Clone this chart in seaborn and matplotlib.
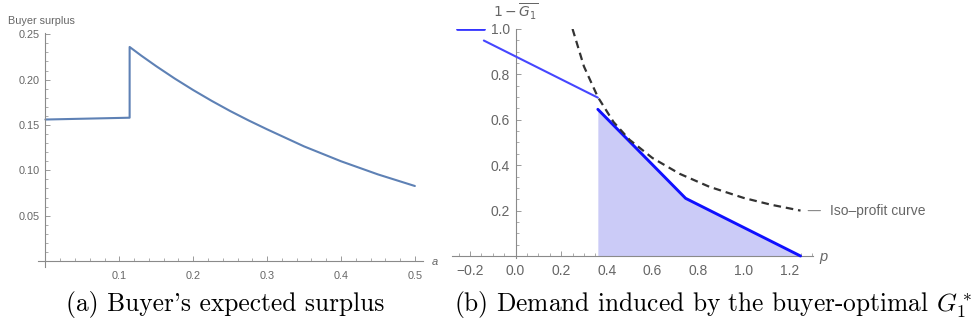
import numpy as np
import pandas as pd
import matplotlib
matplotlib.use("Agg")
import matplotlib.pyplot as plt
from matplotlib.ticker import FixedLocator
import seaborn as sns

# ---------------- data ----------------
# (a) buyer surplus vs a
a_vals = [0.0, 0.114, 0.114, 0.13, 0.15, 0.175, 0.2, 0.225, 0.25, 0.275, 0.3,
          0.35, 0.4, 0.45, 0.5]
surplus = [0.156, 0.158, 0.236, 0.2263, 0.2148, 0.2012, 0.1885, 0.1766, 0.1654,
           0.1550, 0.1452, 0.1264, 0.110, 0.0955, 0.0827]
a_ticks = [0.1, 0.2, 0.3, 0.4, 0.5]
a_tick_labels = ["0.1", "0.2", "0.3", "0.4", "0.5"]
s_ticks = [0.05, 0.10, 0.15, 0.20, 0.25]
s_tick_labels = ["0.05", "0.10", "0.15", "0.20", "0.25"]

# (b) demand induced by buyer-optimal G1*
top_p = [-0.257, -0.139]
top_q = [1.0, 1.0]
seg1_p = [-0.139, 0.361]
seg1_q = [0.949, 0.6975]
seg2_p = [0.361, 0.746, 1.25]
seg2_q = [0.646, 0.254, 0.0]
iso_p = [0.25, 0.30, 0.361, 0.43, 0.50, 0.60, 0.72, 0.85, 1.00, 1.12, 1.25]
iso_q = [1.0, 0.835, 0.70, 0.59, 0.512, 0.432, 0.362, 0.305, 0.256, 0.226, 0.200]
p_ticks = [-0.2, 0.0, 0.2, 0.4, 0.6, 0.8, 1.0, 1.2]
p_tick_labels = ["\u22120.2", "0.0", "0.2", "0.4", "0.6", "0.8", "1.0", "1.2"]
q_ticks = [0.2, 0.4, 0.6, 0.8, 1.0]
q_tick_labels = ["0.2", "0.4", "0.6", "0.8", "1.0"]

# ---------------- style ----------------
sns.set_theme(style="white")
plt.rcParams["font.family"] = ["Liberation Sans", "DejaVu Sans"]
plt.rcParams["mathtext.fontset"] = "dejavusans"

W, H = 979, 335
fig = plt.figure(figsize=(W / 100, H / 100), dpi=100)

def fx(x):
    return x / W

def fy(y):
    return 1 - y / H

AX_COL = "#8a8a8a"
LAB_COL = "#666666"

def mathematica_axes(ax, xlim, ylim, fs):
    ax.set_xlim(*xlim)
    ax.set_ylim(*ylim)
    for s in ["top", "right"]:
        ax.spines[s].set_visible(False)
    ax.spines["left"].set_position(("data", 0))
    ax.spines["bottom"].set_position(("data", 0))
    ax.spines["left"].set_bounds(*ylim)
    ax.spines["bottom"].set_bounds(*xlim)
    for s in ["left", "bottom"]:
        ax.spines[s].set_color(AX_COL)
        ax.spines[s].set_linewidth(0.8)
    ax.tick_params(which="both", bottom=True, left=True, top=False, right=False)
    ax.tick_params(which="major", direction="in", length=3.4, width=0.6,
                   color=AX_COL, labelcolor=LAB_COL, labelsize=fs, pad=4)
    ax.tick_params(which="minor", direction="in", length=2.0, width=0.5,
                   color=AX_COL)
    ax.grid(False)
    ax.set_facecolor("none")

# ---------------- panel (a) ----------------
ax1 = fig.add_axes([fx(37.7), fy(267), fx(423) - fx(37.7), fy(33) - fy(267)])
df_a = pd.DataFrame({"a": a_vals, "surplus": surplus})
sns.lineplot(data=df_a, x="a", y="surplus", sort=False, estimator=None,
             color="#5E81B5", lw=1.5, ax=ax1)
mathematica_axes(ax1, (-0.0104, 0.511), (-0.0066, 0.2514), 7.8)
ax1.xaxis.set_major_locator(FixedLocator(a_ticks))
ax1.set_xticklabels(a_tick_labels)
ax1.xaxis.set_minor_locator(FixedLocator(np.arange(0.02, 0.51, 0.02)))
ax1.yaxis.set_major_locator(FixedLocator(s_ticks))
ax1.set_yticklabels(s_tick_labels)
ax1.yaxis.set_minor_locator(FixedLocator(np.arange(0.01, 0.251, 0.01)))
ax1.tick_params(axis="x", pad=7.5)
ax1.set_xlabel("")
ax1.set_ylabel("")
fig.text(fx(8), fy(21), "Buyer surplus", ha="left", va="center",
         fontsize=7.8, color=LAB_COL)
fig.text(fx(435), fy(262), "a", ha="center", va="center",
         fontsize=8, color=LAB_COL, style="italic")

# ---------------- panel (b) ----------------
ax2 = fig.add_axes([fx(451.7), fy(258.3), fx(813.3) - fx(451.7), fy(28.5) - fy(258.3)])
ax2.fill_between(seg2_p, seg2_q, 0, color="#cbcbf7", lw=0, zorder=1)
sns.lineplot(x=iso_p, y=iso_q, sort=False, estimator=None, color="#333333",
             lw=1.6, ax=ax2, zorder=4)
ax2.lines[-1].set_linestyle((0, (3.4, 2.2)))
sns.lineplot(x=top_p, y=top_q, sort=False, estimator=None, color="#3535ff",
             lw=2.0, ax=ax2, zorder=3)
sns.lineplot(x=seg1_p, y=seg1_q, sort=False, estimator=None, color="#4646ff",
             lw=1.5, ax=ax2, zorder=3)
sns.lineplot(x=seg2_p, y=seg2_q, sort=False, estimator=None, color="#1010ff",
             lw=2.1, ax=ax2, zorder=3)
mathematica_axes(ax2, (-0.280, 1.306), (-0.0101, 1.002), 10)
ax2.xaxis.set_major_locator(FixedLocator(p_ticks))
ax2.set_xticklabels(p_tick_labels)
ax2.xaxis.set_minor_locator(FixedLocator(np.arange(-0.25, 1.31, 0.05)))
ax2.yaxis.set_major_locator(FixedLocator(q_ticks))
ax2.set_yticklabels(q_tick_labels)
ax2.yaxis.set_minor_locator(FixedLocator(np.arange(0.05, 1.001, 0.05)))
ax2.tick_params(axis="x", pad=5.5)
ax2.set_xlabel("")
ax2.set_ylabel("")
ax2.annotate("Iso\u2013profit curve", xy=(iso_p[-1], iso_q[-1]),
             xytext=(21, 0), textcoords="offset points", ha="left", va="center",
             fontsize=10, color=LAB_COL, annotation_clip=False,
             arrowprops=dict(arrowstyle="-", color="#888888", lw=0.8,
                             shrinkA=4.3, shrinkB=5.5))
fig.text(fx(516), fy(12), r"$1-\overline{G_1}$", ha="center", va="center",
         fontsize=10, color=LAB_COL)
fig.text(fx(823), fy(257), "p", ha="center", va="center",
         fontsize=10.5, color=LAB_COL, style="italic")

# ---------------- captions ----------------
fig.text(fx(225), fy(311), "(a) Buyer's expected surplus", ha="center",
         va="baseline", fontsize=18.3, family="cmr10", color="black")
fig.text(fx(713), fy(311), r"(b) Demand induced by the buyer-optimal $G_1^*$",
         ha="center", va="baseline", fontsize=18.3, family="cmr10", color="black",
         math_fontfamily="cm")

fig.savefig("out.png", dpi=100)
